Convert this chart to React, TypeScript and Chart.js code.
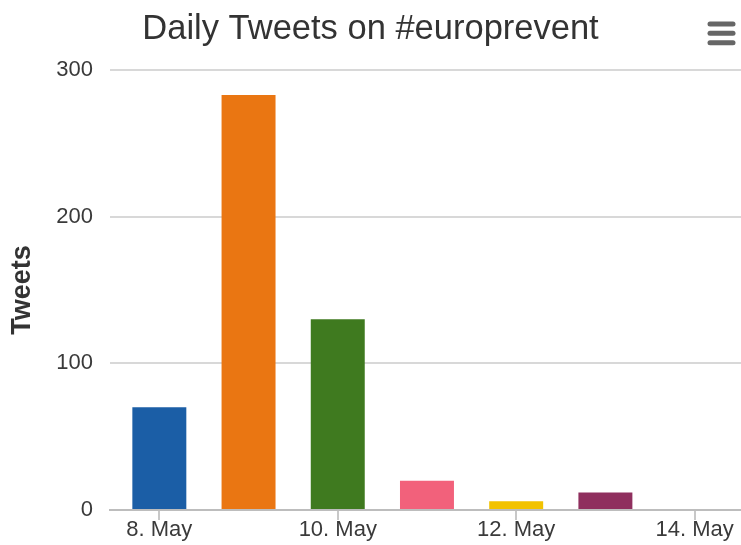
import React, { useEffect, useRef } from "react";
import { Chart, registerables } from "chart.js";

Chart.register(...registerables);

const chartTitle = "Daily Tweets on #europrevent";
const yAxisTitle = "Tweets";
const dayNumbers = [8, 9, 10, 11, 12, 13, 14];
const tweetCounts = [70, 283, 130, 20, 6, 12, 0];
const barColors = ["#1B5EA6", "#EA7612", "#3F7A1F", "#F2617B", "#F2C200", "#8F2F5E", "#8F2F5E"];
const xTickDays = [8, 10, 12, 14];
const xTickLabels = ["8. May", "10. May", "12. May", "14. May"];
const yTicks = [0, 100, 200, 300];

const FONT = "'Liberation Sans', Arial, sans-serif";

const menuIcon = {
  id: "menuIcon",
  afterDraw(chart: any) {
    const ctx = chart.ctx;
    ctx.save();
    ctx.strokeStyle = "#666666";
    ctx.lineWidth = 5;
    ctx.lineCap = "round";
    [24, 33.3, 42.7].forEach((y) => {
      ctx.beginPath();
      ctx.moveTo(710, y);
      ctx.lineTo(733, y);
      ctx.stroke();
    });
    ctx.restore();
  },
};

export default function App() {
  const ref = useRef<HTMLCanvasElement | null>(null);
  useEffect(() => {
    if (!ref.current) return;
    const chart = new Chart(ref.current, {
      type: "bar",
      data: {
        datasets: [
          {
            data: dayNumbers.map((d, i) => ({ x: d, y: tweetCounts[i] })),
            backgroundColor: barColors,
            borderWidth: 0,
            barPercentage: 0.605,
            categoryPercentage: 1,
          },
        ],
      },
      options: {
        animation: false,
        responsive: true,
        maintainAspectRatio: false,
        layout: { padding: { top: 0, left: 0, right: 0, bottom: 0 } },
        plugins: {
          legend: { display: false },
          tooltip: { enabled: false },
          title: {
            display: true,
            text: chartTitle,
            color: "#333333",
            font: { family: FONT, size: 34.5, weight: "normal", lineHeight: 1.2 },
            padding: { top: 9, bottom: 19.6 },
          },
        },
        scales: {
          x: {
            type: "linear",
            min: 7.447,
            max: 14.52,
            offset: false,
            afterFit: (s: any) => {
              s.height = 35;
            },
            afterBuildTicks: (s: any) => {
              s.ticks = xTickDays.map((v) => ({ value: v }));
            },
            ticks: {
              color: "#3a3a3a",
              font: { family: FONT, size: 22, lineHeight: 1 },
              padding: -1,
              maxRotation: 0,
              autoSkip: false,
              callback: (v: any) => {
                const i = xTickDays.indexOf(Number(v));
                return i >= 0 ? xTickLabels[i] : "";
              },
            },
            grid: {
              offset: false,
              drawOnChartArea: false,
              drawTicks: true,
              tickLength: 10,
              color: "#c8c8c8",
              lineWidth: 2,
            },
            border: { display: true, color: "#bdbdbd", width: 2 },
          },
          y: {
            min: 0,
            max: 300,
            afterFit: (s: any) => {
              s.width = 110;
            },
            afterBuildTicks: (s: any) => {
              s.ticks = yTicks.map((v) => ({ value: v }));
            },
            ticks: {
              color: "#3a3a3a",
              font: { family: FONT, size: 22 },
              padding: 17,
            },
            grid: {
              drawTicks: false,
              color: (c: any) => (c.tick && c.tick.value === 0 ? "rgba(0,0,0,0)" : "#d8d8d8"),
              lineWidth: 2,
            },
            border: { display: false },
            title: {
              display: true,
              text: yAxisTitle,
              color: "#333333",
              font: { family: FONT, size: 27, weight: "bold", lineHeight: 1.2 },
              padding: { top: 6 },
            },
          },
        },
      },
      plugins: [menuIcon],
    });
    return () => chart.destroy();
  }, []);
  return (
    <div style={{ position: "absolute", left: 0, top: 0, width: 741, height: 545 }}>
      <canvas ref={ref} />
    </div>
  );
}
